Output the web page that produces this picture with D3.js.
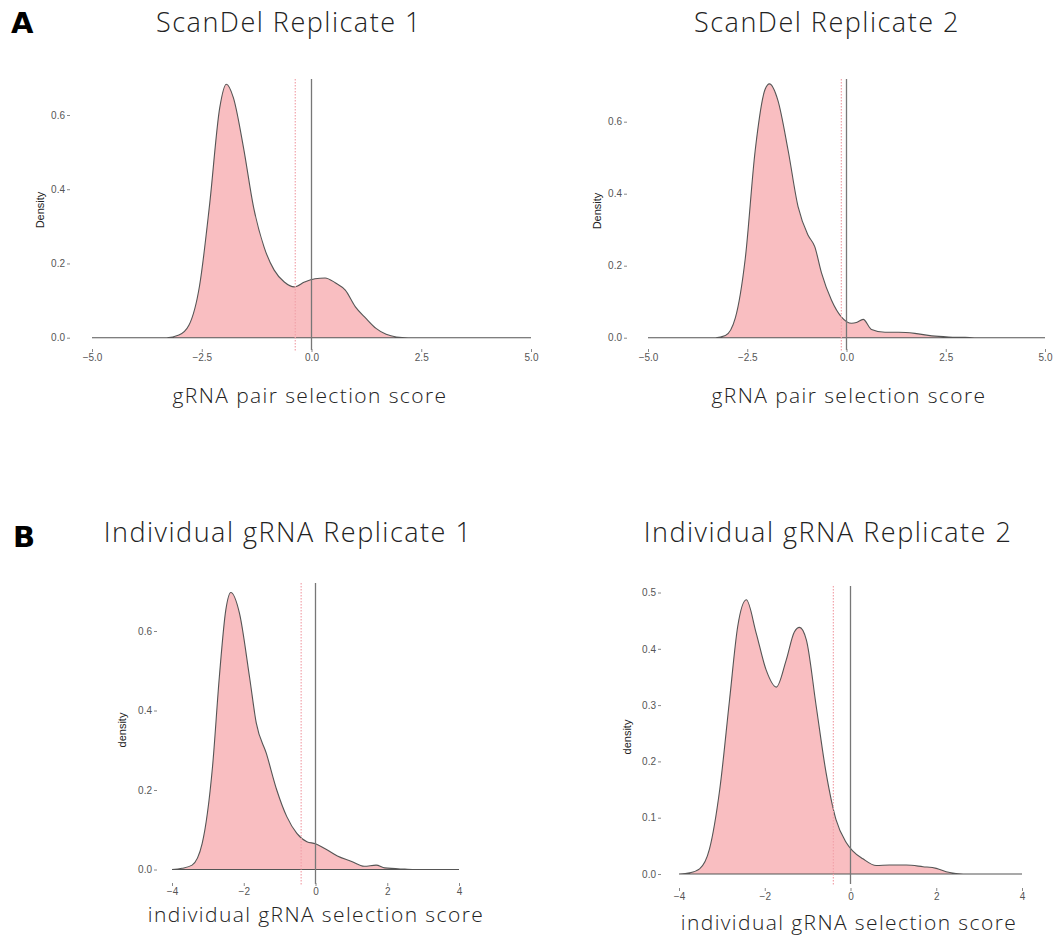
<!DOCTYPE html>
<html>
<head>
<meta charset="utf-8">
<script src="https://cdn.jsdelivr.net/npm/d3@7"></script>
<style>
  body { margin: 0; background: #fff; }
  svg { display: block; }
</style>
</head>
<body>
<div id="chart"></div>
<script>
// density curves (score, density)
const scanDel1Score = [-5, -3.3, -3.02, -2.79, -2.55, -2.32, -2.09, -1.94, -1.78, -1.55, -1.32, -1.08, -0.85, -0.62, -0.39, -0.16, 0.08, 0.31, 0.54, 0.77, 1.0, 1.24, 1.47, 1.7, 1.93, 2.2, 5];
const scanDel1Density = [0, 0, 0.007, 0.034, 0.14, 0.36, 0.62, 0.683, 0.647, 0.513, 0.352, 0.244, 0.182, 0.15, 0.137, 0.15, 0.159, 0.161, 0.148, 0.128, 0.083, 0.052, 0.025, 0.009, 0.002, 0, 0];

const scanDel2Score = [-5, -3.3, -3.05, -2.8, -2.55, -2.3, -2.05, -1.94, -1.73, -1.47, -1.22, -0.97, -0.8, -0.63, -0.38, -0.13, 0.13, 0.25, 0.42, 0.63, 0.97, 1.31, 1.72, 2.15, 2.57, 2.99, 3.3, 5];
const scanDel2Density = [0, 0, 0.006, 0.055, 0.22, 0.52, 0.69, 0.705, 0.66, 0.52, 0.364, 0.285, 0.253, 0.18, 0.105, 0.058, 0.04, 0.042, 0.051, 0.023, 0.015, 0.015, 0.012, 0.005, 0.002, 0.001, 0, 0];

const indiv1Score = [-4, -3.72, -3.44, -3.16, -2.87, -2.68, -2.5, -2.36, -2.12, -1.84, -1.65, -1.37, -1.08, -0.8, -0.52, -0.24, 0, 0.33, 0.61, 0.99, 1.36, 1.69, 1.93, 2.49, 2.8, 4];
const indiv1Density = [0, 0.003, 0.011, 0.065, 0.259, 0.485, 0.653, 0.697, 0.645, 0.485, 0.368, 0.292, 0.2, 0.133, 0.091, 0.07, 0.065, 0.049, 0.034, 0.021, 0.008, 0.011, 0.004, 0.001, 0, 0];

const indiv2Score = [-4, -3.75, -3.52, -3.29, -3.05, -2.82, -2.63, -2.43, -2.2, -1.97, -1.73, -1.5, -1.31, -1.19, -1.03, -0.8, -0.57, -0.34, -0.1, 0.05, 0.29, 0.6, 0.91, 1.3, 1.69, 2.0, 2.23, 2.46, 2.8, 4];
const indiv2Density = [0, 0.002, 0.009, 0.044, 0.15, 0.31, 0.44, 0.487, 0.428, 0.363, 0.332, 0.38, 0.43, 0.438, 0.416, 0.298, 0.18, 0.097, 0.056, 0.041, 0.027, 0.015, 0.016, 0.016, 0.013, 0.01, 0.004, 0.001, 0, 0];

// tick values and the dotted threshold for each panel
const scanDelXTicks = [-5, -2.5, 0, 2.5, 5];
const indivXTicks = [-4, -2, 0, 2, 4];
const yTicksA = [0, 0.2, 0.4, 0.6];
const yTicksB2 = [0, 0.1, 0.2, 0.3, 0.4, 0.5];
const thresholds = [-0.37, -0.13, -0.4, -0.4];

const titles = ["ScanDel Replicate 1", "ScanDel Replicate 2", "Individual gRNA Replicate 1", "Individual gRNA Replicate 2"];
const xTitles = ["gRNA pair selection score", "gRNA pair selection score", "individual gRNA selection score", "individual gRNA selection score"];
const yTitles = ["Density", "Density", "density", "density"];

const width = 1058;
const height = 941;

// layout of each panel (pixels)
const panels = [
  { score: scanDel1Score, dens: scanDel1Density, xDom: [-5, 5], xPx: [92, 531], yTop: 0.6, yPx: [337.7, 115],
    xTicks: scanDelXTicks, xFmt: ".1f", yTicks: yTicksA, yAxisX: 70, xAxisY: 349, vTop: 79, vBot: 350,
    titleX: 289, titleY: 32, xTitleX: 310, xTitleY: 403, yTitleX: 40, yTitleY: 210 },
  { score: scanDel2Score, dens: scanDel2Density, xDom: [-5, 5], xPx: [648, 1045], yTop: 0.6, yPx: [337.7, 121.7],
    xTicks: scanDelXTicks, xFmt: ".1f", yTicks: yTicksA, yAxisX: 627, xAxisY: 349, vTop: 79, vBot: 350,
    titleX: 827, titleY: 32, xTitleX: 849, xTitleY: 403, yTitleX: 597, yTitleY: 211 },
  { score: indiv1Score, dens: indiv1Density, xDom: [-4, 4], xPx: [172, 459], yTop: 0.6, yPx: [869.5, 631],
    xTicks: indivXTicks, xFmt: "d", yTicks: yTicksA, yAxisX: 157, xAxisY: 883, vTop: 583, vBot: 884,
    titleX: 288, titleY: 542, xTitleX: 316, xTitleY: 922, yTitleX: 122, yTitleY: 730 },
  { score: indiv2Score, dens: indiv2Density, xDom: [-4, 4], xPx: [679, 1022], yTop: 0.5, yPx: [874, 592.5],
    xTicks: indivXTicks, xFmt: "d", yTicks: yTicksB2, yAxisX: 661, xAxisY: 888, vTop: 586, vBot: 884,
    titleX: 828, titleY: 542, xTitleX: 849, xTitleY: 930, yTitleX: 627, yTitleY: 737 }
];

const svg = d3
  .select("#chart")
  .append("svg")
  .attr("width", width)
  .attr("height", height);

const lightFont = "'Open Sans', 'Liberation Sans', sans-serif";
const tickFont = "'Liberation Sans', Arial, sans-serif";

panels.forEach((p, i) => {
  const x = d3.scaleLinear().domain(p.xDom).range(p.xPx);
  const y = d3.scaleLinear().domain([0, p.yTop]).range(p.yPx);
  const pts = p.score.map((s, k) => ({ s: s, d: p.dens[k] }));
  const g = svg.append("g");

  // density area
  const area = d3
    .area()
    .x((d) => x(d.s))
    .y0(y(0))
    .y1((d) => y(d.d))
    .curve(d3.curveMonotoneX);

  g.append("path")
    .datum(pts)
    .attr("d", area)
    .attr("fill", "#f9bec1")
    .attr("stroke", "#555")
    .attr("stroke-width", 1.1);

  // threshold (dotted red) and zero line
  g.append("line")
    .attr("x1", x(thresholds[i]))
    .attr("x2", x(thresholds[i]))
    .attr("y1", p.vTop)
    .attr("y2", p.vBot + 2)
    .attr("stroke", "#f2a3ab")
    .attr("stroke-width", 1.2)
    .attr("stroke-dasharray", "1.5,1.5");

  g.append("line")
    .attr("x1", x(0))
    .attr("x2", x(0))
    .attr("y1", p.vTop)
    .attr("y2", p.vBot)
    .attr("stroke", "#777")
    .attr("stroke-width", 1.3);

  // y axis
  const yAxis = svg
    .append("g")
    .attr("transform", `translate(${p.yAxisX},0)`)
    .call(d3.axisLeft(y).tickValues(p.yTicks).tickFormat(d3.format(".1f")).tickSize(3).tickPadding(2));
  yAxis.select(".domain").remove();

  // x axis
  const xAxis = svg
    .append("g")
    .attr("transform", `translate(0,${p.xAxisY})`)
    .call(d3.axisBottom(x).tickValues(p.xTicks).tickFormat(d3.format(p.xFmt)).tickSize(3).tickPadding(2));
  xAxis.select(".domain").remove();

  [yAxis, xAxis].forEach((ax) => {
    ax.selectAll("line").attr("stroke", "#888");
    ax.selectAll("text")
      .attr("fill", "#555")
      .style("font-size", "10px")
      .style("font-family", tickFont);
  });

  // titles
  svg.append("text")
    .attr("x", p.titleX)
    .attr("y", p.titleY)
    .attr("text-anchor", "middle")
    .style("font-family", lightFont)
    .style("font-weight", 300)
    .style("font-size", "27px")
    .style("letter-spacing", "1.5px")
    .attr("fill", "#222")
    .text(titles[i]);

  svg.append("text")
    .attr("x", p.xTitleX)
    .attr("y", p.xTitleY)
    .attr("text-anchor", "middle")
    .style("font-family", lightFont)
    .style("font-weight", 300)
    .style("font-size", "21px")
    .style("letter-spacing", "1.4px")
    .attr("fill", "#222")
    .text(xTitles[i]);

  svg.append("text")
    .attr("transform", `translate(${p.yTitleX + 4},${p.yTitleY}) rotate(-90)`)
    .attr("text-anchor", "middle")
    .style("font-family", tickFont)
    .style("font-size", "11px")
    .attr("fill", "#222")
    .text(yTitles[i]);
});

// panel letters
svg.append("text")
  .attr("x", 11)
  .attr("y", 33)
  .style("font-family", "'DejaVu Sans', sans-serif")
  .style("font-weight", "bold")
  .style("font-size", "29px")
  .text("A");

svg.append("text")
  .attr("x", 13)
  .attr("y", 547)
  .style("font-family", "'DejaVu Sans', sans-serif")
  .style("font-weight", "bold")
  .style("font-size", "29px")
  .text("B");
</script>
</body>
</html>
